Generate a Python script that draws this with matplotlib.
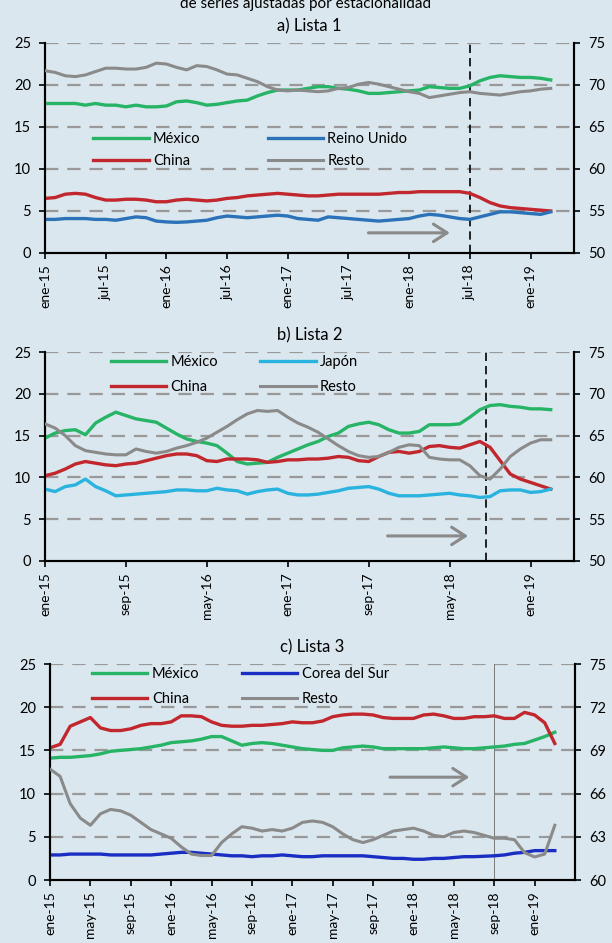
import numpy as np
import matplotlib.pyplot as plt

plt.rcParams['font.family'] = ['Lato', 'DejaVu Sans']

# meses: ene-15 ... mar-19
meses = ['ene', 'feb', 'mar', 'abr', 'may', 'jun', 'jul', 'ago', 'sep', 'oct', 'nov', 'dic']
etiquetas = [f'{meses[i % 12]}-{15 + i // 12}' for i in range(51)]
x = np.arange(51)

# a) Lista 1  (Resto en eje derecho)
a_mexico = [17.8, 17.8, 17.8, 17.8, 17.6, 17.8, 17.6, 17.6, 17.4, 17.6, 17.4, 17.4, 17.5, 18.0, 18.1, 17.9,
            17.6, 17.7, 17.9, 18.1, 18.2, 18.7, 19.1, 19.4, 19.4, 19.4, 19.6, 19.8, 19.8, 19.6, 19.5, 19.3,
            19.0, 19.0, 19.1, 19.2, 19.3, 19.4, 19.8, 19.7, 19.6, 19.6, 19.9, 20.5, 20.9, 21.1, 21.0, 20.9,
            20.9, 20.8, 20.6]
a_china = [6.5, 6.6, 7.0, 7.1, 7.0, 6.6, 6.3, 6.3, 6.4, 6.4, 6.3, 6.1, 6.1, 6.3, 6.4, 6.3, 6.2, 6.3, 6.5,
           6.6, 6.8, 6.9, 7.0, 7.1, 7.0, 6.9, 6.8, 6.8, 6.9, 7.0, 7.0, 7.0, 7.0, 7.0, 7.1, 7.2, 7.2, 7.3,
           7.3, 7.3, 7.3, 7.3, 7.1, 6.6, 6.0, 5.6, 5.4, 5.3, 5.2, 5.1, 5.0]
a_reino = [4.0, 4.0, 4.1, 4.1, 4.1, 4.0, 4.0, 3.9, 4.1, 4.3, 4.2, 3.8, 3.7, 3.65, 3.7, 3.8, 3.9, 4.2, 4.4,
           4.3, 4.2, 4.3, 4.4, 4.5, 4.4, 4.1, 4.0, 3.9, 4.3, 4.2, 4.1, 4.0, 3.9, 3.8, 3.9, 4.0, 4.1, 4.4,
           4.6, 4.5, 4.3, 4.1, 4.0, 4.3, 4.6, 4.9, 4.9, 4.8, 4.7, 4.6, 4.9]
a_resto = [71.7, 71.5, 71.1, 71.0, 71.2, 71.6, 72.0, 72.0, 71.9, 71.9, 72.1, 72.6, 72.5, 72.1, 71.8, 72.3,
           72.2, 71.8, 71.3, 71.2, 70.8, 70.4, 69.8, 69.4, 69.3, 69.4, 69.3, 69.2, 69.3, 69.6, 69.7, 70.1,
           70.3, 70.1, 69.8, 69.5, 69.2, 69.0, 68.5, 68.7, 68.9, 69.1, 69.2, 69.0, 68.9, 68.8, 69.0, 69.2,
           69.3, 69.5, 69.6]

# b) Lista 2
b_mexico = [14.7, 15.3, 15.6, 15.7, 15.1, 16.5, 17.2, 17.8, 17.4, 17.0, 16.8, 16.6, 15.9, 15.2, 14.6, 14.3,
            14.1, 13.8, 12.9, 11.9, 11.6, 11.7, 11.8, 12.4, 12.9, 13.4, 13.9, 14.3, 14.9, 15.3, 16.1, 16.4,
            16.6, 16.3, 15.7, 15.3, 15.3, 15.5, 16.3, 16.3, 16.3, 16.4, 17.2, 18.1, 18.6, 18.7, 18.5, 18.4,
            18.2, 18.2, 18.1]
b_china = [10.2, 10.5, 11.0, 11.6, 11.9, 11.7, 11.5, 11.4, 11.6, 11.7, 12.0, 12.3, 12.6, 12.8, 12.8, 12.6,
           12.0, 11.9, 12.2, 12.2, 12.2, 12.1, 11.8, 11.9, 12.1, 12.1, 12.2, 12.2, 12.3, 12.5, 12.4, 12.0,
           11.9, 12.5, 13.0, 13.1, 12.9, 13.1, 13.7, 13.8, 13.6, 13.5, 13.9, 14.3, 13.6, 12.0, 10.4, 9.8,
           9.4, 9.0, 8.6]
b_japon = [8.6, 8.3, 8.9, 9.1, 9.8, 8.9, 8.4, 7.8, 7.9, 8.0, 8.1, 8.2, 8.3, 8.5, 8.5, 8.4, 8.4, 8.7, 8.5,
           8.4, 8.0, 8.3, 8.5, 8.6, 8.1, 7.9, 7.9, 8.0, 8.2, 8.4, 8.7, 8.8, 8.9, 8.6, 8.1, 7.8, 7.8, 7.8,
           7.9, 8.0, 8.1, 7.9, 7.8, 7.6, 7.7, 8.4, 8.5, 8.5, 8.2, 8.3, 8.6]
b_resto = [66.4, 65.9, 65.0, 63.8, 63.2, 63.0, 62.8, 62.7, 62.7, 63.4, 63.1, 62.9, 63.1, 63.5, 63.8, 64.2,
           64.7, 65.4, 66.1, 66.9, 67.6, 68.0, 67.9, 68.0, 67.2, 66.5, 66.0, 65.4, 64.6, 63.8, 63.1, 62.6,
           62.4, 62.5, 63.0, 63.6, 63.9, 63.8, 62.4, 62.2, 62.1, 62.1, 61.4, 60.2, 59.8, 61.0, 62.5, 63.4,
           64.1, 64.5, 64.5]

# c) Lista 3
c_mexico = [14.1, 14.2, 14.2, 14.3, 14.4, 14.6, 14.9, 15.0, 15.1, 15.2, 15.4, 15.6, 15.9, 16.0, 16.1, 16.3,
            16.6, 16.6, 16.1, 15.6, 15.8, 15.9, 15.8, 15.6, 15.4, 15.2, 15.1, 15.0, 15.0, 15.3, 15.4, 15.5,
            15.4, 15.2, 15.2, 15.2, 15.2, 15.2, 15.3, 15.4, 15.3, 15.2, 15.2, 15.3, 15.4, 15.5, 15.7, 15.8,
            16.2, 16.6, 17.1]
c_china = [15.3, 15.7, 17.8, 18.3, 18.8, 17.6, 17.3, 17.3, 17.5, 17.9, 18.1, 18.1, 18.3, 19.0, 19.0, 18.9,
           18.3, 17.9, 17.8, 17.8, 17.9, 17.9, 18.0, 18.1, 18.3, 18.2, 18.2, 18.4, 18.9, 19.1, 19.2, 19.2,
           19.1, 18.8, 18.7, 18.7, 18.7, 19.1, 19.2, 19.0, 18.7, 18.7, 18.9, 18.9, 19.0, 18.7, 18.7, 19.4,
           19.1, 18.2, 15.8]
c_corea = [2.9, 2.9, 3.0, 3.0, 3.0, 3.0, 2.9, 2.9, 2.9, 2.9, 2.9, 3.0, 3.1, 3.2, 3.2, 3.1, 3.0, 2.9, 2.8,
           2.8, 2.7, 2.8, 2.8, 2.9, 2.8, 2.7, 2.7, 2.8, 2.8, 2.8, 2.8, 2.8, 2.7, 2.6, 2.5, 2.5, 2.4, 2.4,
           2.5, 2.5, 2.6, 2.7, 2.7, 2.75, 2.8, 2.9, 3.1, 3.2, 3.4, 3.4, 3.4]
c_resto = [67.7, 67.2, 65.3, 64.3, 63.8, 64.6, 64.9, 64.8, 64.5, 64.0, 63.5, 63.2, 62.9, 62.3, 61.8, 61.7,
           61.7, 62.6, 63.2, 63.7, 63.6, 63.4, 63.5, 63.4, 63.6, 64.0, 64.1, 64.0, 63.7, 63.2, 62.8, 62.6,
           62.8, 63.1, 63.4, 63.5, 63.6, 63.4, 63.1, 63.0, 63.3, 63.4, 63.3, 63.1, 62.9, 62.9, 62.8, 61.9,
           61.6, 61.8, 63.8]

fondo = '#dae7ee'
verde = '#27b466'
rojo = '#c1272d'
gris = '#8a8a8a'

fig = plt.figure(figsize=(6.12, 9.43), dpi=100, facecolor=fondo)
# titulo general (recortado arriba en el original)
fig.text(0.5, 1 - 8 / 943, 'de series ajustadas por estacionalidad', ha='center', va='baseline', fontsize=11)


def panel(rect, titulo, series, resto, der_ticks, paso_x, xmax, vline, vstyle, flecha, leg):
    ax = fig.add_axes(rect)
    ax.set_facecolor(fondo)
    ax2 = ax.twinx()
    handles = []
    for nombre, vals, color in series:
        h, = ax.plot(x, vals, color=color, lw=2.4, label=nombre, zorder=4)
        handles.append(h)
    hr, = ax2.plot(x, resto, color=gris, lw=2.2, label='Resto', zorder=3)
    handles.append(hr)

    ax.set_ylim(0, 25)
    ax.set_yticks(range(0, 26, 5))
    ax2.set_ylim(der_ticks[0], der_ticks[-1])
    ax2.set_yticks(der_ticks)
    for y in range(5, 26, 5):
        ax.axhline(y, color='#999999', lw=1.6, ls=(0, (6, 4)), zorder=1)
    ax.set_xlim(0, xmax)
    ticks = list(range(0, 51, paso_x))
    ax.set_xticks(ticks)
    ax.set_xticklabels([etiquetas[i] for i in ticks], rotation=90, fontsize=10)
    ax.axvline(vline, **vstyle, zorder=2)

    ax.spines['top'].set_visible(False)
    ax2.spines['top'].set_visible(False)
    for a in (ax, ax2):
        for s in ['left', 'right', 'bottom']:
            a.spines[s].set_linewidth(1.5)
    ax.tick_params(axis='y', labelsize=10.5, length=4, width=1.2, pad=6)
    ax2.tick_params(axis='y', labelsize=10.5, length=4, width=1.2, pad=6)
    ax.tick_params(axis='x', length=4, width=1.2, pad=4)

    ax.annotate('', xy=(flecha[1], flecha[2]), xytext=(flecha[0], flecha[2]),
                arrowprops=dict(arrowstyle='->,head_length=0.7,head_width=0.45', color=gris, lw=2.2,
                                mutation_scale=14), zorder=5)

    labels = [h.get_label() for h in handles]
    ax2.legend(handles, labels, ncol=2, loc='upper left', bbox_to_anchor=(leg[0], leg[1]), frameon=False,
               fontsize=10.5, handlelength=3.8, handletextpad=0.3, columnspacing=leg[2],
               labelspacing=leg[3], borderpad=0, borderaxespad=0)
    fig.text(rect[0] + rect[2] / 2, rect[1] + rect[3] + 0.018, titulo, ha='center', va='center', fontsize=12)
    return ax


dash_negro = dict(color='black', lw=1.2, ls=(0, (5, 3)))

panel([45 / 612, 1 - 253 / 943, 529 / 612, 210 / 943], 'a) Lista 1',
      [('México', a_mexico, verde), ('China', a_china, rojo), ('Reino Unido', a_reino, '#2c72b8')],
      a_resto, list(range(50, 76, 5)), 6, 52.3, 42, dash_negro, (31.7, 40.3, 2.4),
      (0.091, 0.575, 4.6, 0.55))

panel([45 / 612, 1 - 561 / 943, 529 / 612, 209 / 943], 'b) Lista 2',
      [('México', b_mexico, verde), ('China', b_china, rojo), ('Japón', b_japon, '#2bb3e0')],
      b_resto, list(range(50, 76, 5)), 8, 52.3, 43.6, dash_negro, (33.6, 42.1, 3.0),
      (0.124, 0.985, 2.9, 0.75))

panel([50 / 612, 1 - 880 / 943, 525 / 612, 216 / 943], 'c) Lista 3',
      [('México', c_mexico, verde), ('China', c_china, rojo), ('Corea del Sur', c_corea, '#1a2ec4')],
      c_resto, list(range(60, 76, 3)), 4, 52.0, 44, dict(color='#7a7a7a', lw=0.7, ls='-'),
      (33.4, 41.8, 11.9), (0.08, 0.985, 2.9, 0.75))

fig.savefig('out.png', dpi=100, facecolor=fondo)
